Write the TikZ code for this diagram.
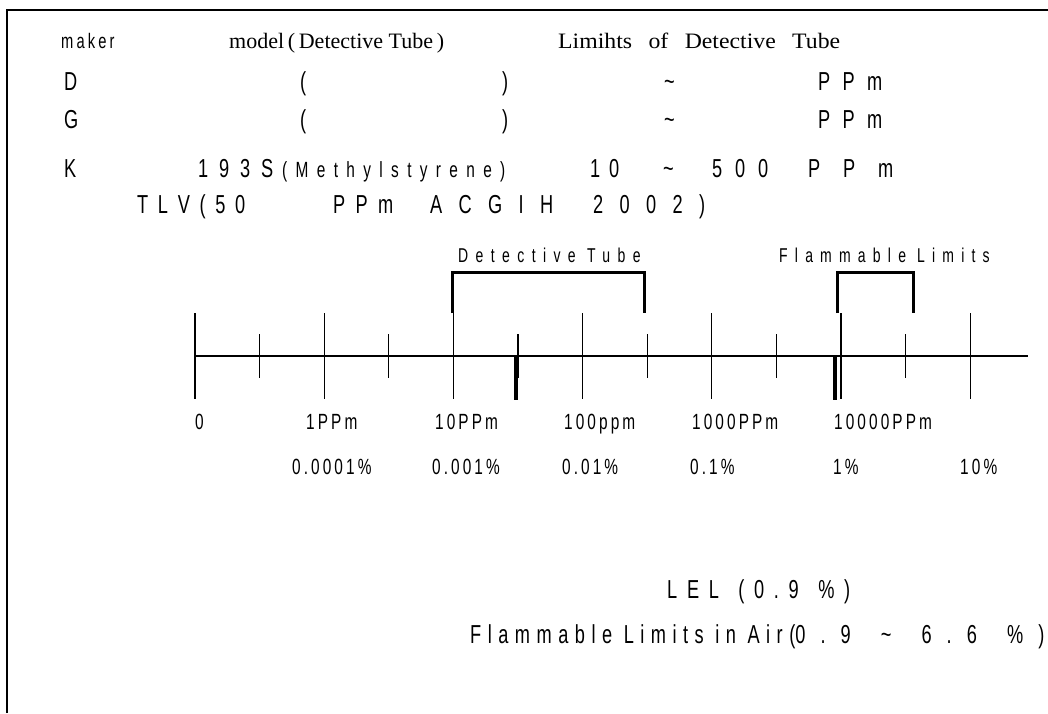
\documentclass[tikz,border=0pt]{standalone}
\usepackage{fontspec}
\setmainfont{Liberation Sans}[FakeStretch=0.7]
\newfontfamily\tubeserif{Liberation Serif}
\newfontfamily\tubeserifw{Liberation Serif}[FakeStretch=1.08]
\usetikzlibrary{positioning}
\frenchspacing
% letter spaced text (LetterSpace in hundredths of an em)
\newcommand\lsp[2]{{\addfontfeatures{LetterSpace=#1}#2}}
% spread a spaced run over a given width
\newcommand\spread[2]{\makebox[#1pt][s]{#2}}

\begin{document}
\begin{tikzpicture}[x=1pt, y=-1pt,
  txt/.style={anchor=base west, inner sep=0pt, font=\fontsize{26}{28}\selectfont},
  small/.style={anchor=base west, inner sep=0pt, font=\fontsize{21}{23}\selectfont},
  ser/.style={anchor=base west, inner sep=0pt, font=\fontsize{22}{24}\tubeserif},
  scl/.style={anchor=base west, inner sep=0pt, font=\fontsize{22}{24}\selectfont},
  axisline/.style={line width=2.6pt},
  tickline/.style={line width=1.1pt},
  heavy/.style={line width=3.6pt},
  bracket/.style={line width=3pt, line join=miter},
]
\useasboundingbox (0,0) rectangle (1048,713);
% frame (cut at the right and the bottom)
\draw[line width=2pt] (7,713) -- (7,10) -- (1048,10);

% table of detective tubes
\node[small] (hmaker) at (61,48) {\lsp{15}{maker}};
\node[ser] (hmodel) at (229,48) {model\,(\,Detective Tube\,)};
\node[ser, font=\fontsize{22}{24}\tubeserifw] (hlimit) at (558,48) {\spread{282}{Limihts of Detective Tube}};
\foreach \r/\yy in {D/90, G/128} {
  \node[txt] (m\r) at (64,\yy) {\r};
  \node[txt] (l\r) at (300,\yy) {(};
  \node[txt] (r\r) at (502,\yy) {)};
  \node[txt] (t\r) at (664,\yy) {\textasciitilde};
  \node[txt] (p\r) at (818,\yy) {\spread{64}{P P m}};
}
\node[txt] (mK) at (64,177) {K};
\node[txt] (modK) at (198,177) {\spread{75}{1 9 3 S}};
\node[small, font=\fontsize{22}{24}\selectfont] (subK) at (282,177) {\lsp{38}{(Methylstyrene)}};
\node[txt] (loK) at (590,177) {\spread{29}{1 0}};
\node[txt] (tiK) at (663,177) {\textasciitilde};
\node[txt] (hiK) at (712,177) {\spread{56}{5 0 0}};
\node[txt] (pK) at (808,177) {\spread{85}{P P m}};
\node[txt] (tlv) at (137,213) {\spread{108}{T L V ( 5 0}\hspace{88pt}\spread{60}{P P m}\hspace{37pt}\spread{123}{A C G I H}\hspace{40pt}\spread{112}{2 0 0 2 )}};

% log scale
\coordinate (a0) at (195,356);
\coordinate (a1) at (1028,356);
\draw[axisline] (a0) -- (a1);
\foreach \k in {0,...,12} {
  \pgfmathsetmacro{\xk}{195 + 64.6*\k}
  \ifodd\k
    \draw[tickline] (\xk,334) -- (\xk,378);
  \else
    \draw[tickline] (\xk,313) -- (\xk,399);
  \fi
}
% TLV and LEL marks
\draw[heavy] (516,356) -- (516,400);
\draw[heavy] (835,356) -- (835,400);

% ranges
\node[small, font=\fontsize{20}{22}\selectfont] (dtlab) at (458,262) {\lsp{37}{Detective Tube}};
\draw[bracket] (452,313) -- (452,272) -- (644,272) -- (644,313);
\node[small, font=\fontsize{20}{22}\selectfont] (fllab) at (779,262) {\lsp{36}{Flammable Limits}};
\draw[bracket] (837,313) -- (837,272) -- (913,272) -- (913,313);

% scale labels
\foreach \xx/\lab/\nm in {195/0/s0, 306/1PPm/s1, 435/10PPm/s2, 564/100ppm/s3, 692/1000PPm/s4, 834/10000PPm/s5} {
  \node[scl] (\nm) at (\xx,429) {\lsp{14}{\lab}};
}
\foreach \xx/\lab/\nm in {292/0.0001\%/q1, 432/0.001\%/q2, 562/0.01\%/q3, 690/0.1\%/q4, 833/1\%/q5, 960/10\%/q6} {
  \node[scl] (\nm) at (\xx,474) {\lsp{14}{\lab}};
}

% notes
\node[txt] (lel) at (667,598) {\spread{183}{L E L\ \ ( 0 . 9\ \ \% )}};
\node[txt] (fla) at (470,643) {\lsp{25}{Flammable Limits in Air(}\spread{249}{0 . 9\ \ \textasciitilde\ \ 6 . 6\ \ \% )}};
\end{tikzpicture}
\end{document}
